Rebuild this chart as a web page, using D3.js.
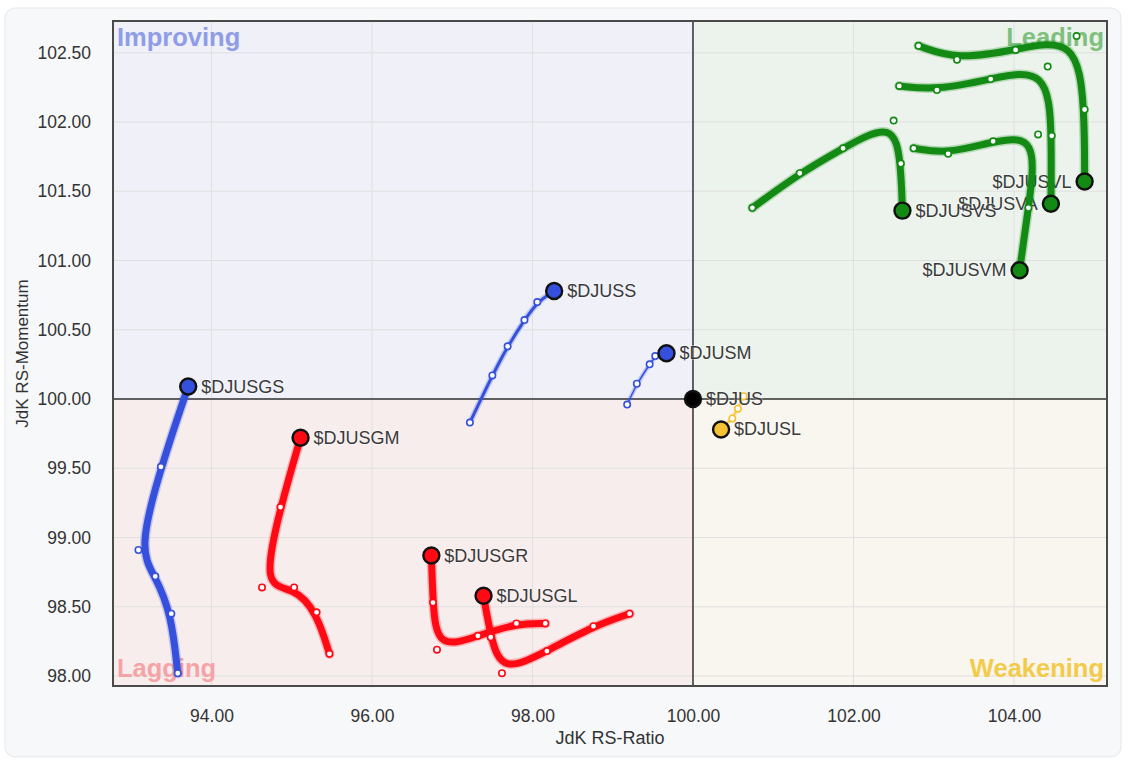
<!DOCTYPE html>
<html>
<head>
<meta charset="utf-8">
<script src="https://cdn.jsdelivr.net/npm/d3@7"></script>
<style>
  html, body { margin: 0; padding: 0; background: #ffffff; }
  svg { display: block; }
  text { font-family: "Liberation Sans", Arial, sans-serif; }
</style>
</head>
<body>
<svg id="chart" width="1130" height="764"></svg>
<script>
// ---- Data ----
const xTicks = [94, 96, 98, 100, 102, 104];
const yTicks = [98.0, 98.5, 99.0, 99.5, 100.0, 100.5, 101.0, 101.5, 102.0, 102.5];
const xDomain = [92.773, 105.159];
const yDomain = [97.928, 102.729];

const seriesNames = ["$DJUSGS", "$DJUSGM", "$DJUSGR", "$DJUSGL", "$DJUSS", "$DJUSM",
                     "$DJUSL", "$DJUSVL", "$DJUSVA", "$DJUSVS", "$DJUSVM", "$DJUS"];

// RS-Ratio (x) and RS-Momentum (y), tail -> head
const ratioGS = [93.58, 93.50, 93.30, 93.09, 93.37, 93.71];
const momGS   = [98.02, 98.45, 98.72, 98.91, 99.51, 100.09];
const ratioGM = [95.47, 95.31, 95.03, 94.63, 94.86, 95.11];
const momGM   = [98.16, 98.46, 98.64, 98.64, 99.22, 99.72];
const ratioGR = [98.16, 97.80, 97.32, 96.81, 96.76, 96.74];
const momGR   = [98.38, 98.38, 98.29, 98.19, 98.53, 98.87];
const ratioGL = [99.21, 98.76, 98.18, 97.62, 97.48, 97.39];
const momGL   = [98.45, 98.36, 98.18, 98.02, 98.28, 98.58];
const ratioS  = [97.22, 97.50, 97.69, 97.90, 98.06, 98.27];
const momS    = [99.83, 100.17, 100.38, 100.57, 100.70, 100.78];
const ratioM  = [99.18, 99.30, 99.46, 99.53, 99.67];
const momM    = [99.96, 100.11, 100.25, 100.31, 100.33];
const ratioL  = [100.63, 100.56, 100.49, 100.35];
const momL    = [100.02, 99.93, 99.86, 99.78];
const ratioVL = [102.81, 103.29, 104.02, 104.78, 104.88, 104.88];
const momVL   = [102.55, 102.45, 102.52, 102.62, 102.09, 101.57];
const ratioVA = [102.57, 103.04, 103.71, 104.42, 104.47, 104.46];
const momVA   = [102.26, 102.23, 102.31, 102.40, 101.90, 101.41];
const ratioVS = [100.74, 101.33, 101.87, 102.50, 102.59, 102.61];
const momVS   = [101.38, 101.63, 101.81, 102.01, 101.70, 101.36];
const ratioVM = [102.75, 103.18, 103.74, 104.30, 104.18, 104.07];
const momVM   = [101.81, 101.77, 101.86, 101.91, 101.38, 100.93];
const ratioUS = [100.00];
const momUS   = [100.00];

const quadrantNames = ["Improving", "Leading", "Lagging", "Weakening"];

// ---- Styles ----
const BLUE = "#3450dc", RED = "#ff0a14", GREEN = "#138a13", GOLD = "#f4c233", BLACK = "#000000";
const series = [
  {name: "$DJUSGS", xs: ratioGS, ys: momGS, color: BLUE,  w: 7,   label: "right"},
  {name: "$DJUSGM", xs: ratioGM, ys: momGM, color: RED,   w: 7,   label: "right"},
  {name: "$DJUSGR", xs: ratioGR, ys: momGR, color: RED,   w: 7,   label: "right"},
  {name: "$DJUSGL", xs: ratioGL, ys: momGL, color: RED,   w: 7,   label: "right"},
  {name: "$DJUSS",  xs: ratioS,  ys: momS,  color: BLUE,  w: 3,   label: "right"},
  {name: "$DJUSM",  xs: ratioM,  ys: momM,  color: BLUE,  w: 1.5, label: "right"},
  {name: "$DJUSL",  xs: ratioL,  ys: momL,  color: GOLD,  w: 1.5, label: "right"},
  {name: "$DJUSVL", xs: ratioVL, ys: momVL, color: GREEN, w: 7,   label: "left"},
  {name: "$DJUSVA", xs: ratioVA, ys: momVA, color: GREEN, w: 7,   label: "left"},
  {name: "$DJUSVS", xs: ratioVS, ys: momVS, color: GREEN, w: 7,   label: "right"},
  {name: "$DJUSVM", xs: ratioVM, ys: momVM, color: GREEN, w: 7,   label: "left"},
  {name: "$DJUS",   xs: ratioUS, ys: momUS, color: BLACK, w: 1.5, label: "right"}
];

const svg = d3.select("#chart");
const W = 1130, H = 764;
const m = {left: 113, top: 21, right: 23, bottom: 78};
const pw = W - m.left - m.right, ph = H - m.top - m.bottom;

// card
svg.append("rect").attr("x", 5).attr("y", 8).attr("width", 1116).attr("height", 749)
  .attr("rx", 10).attr("fill", "#f7f8fa").attr("stroke", "#e6e7ea").attr("stroke-width", 1);

const x = d3.scaleLinear().domain(xDomain).range([0, pw]);
const y = d3.scaleLinear().domain(yDomain).range([ph, 0]);

const g = svg.append("g").attr("transform", `translate(${m.left},${m.top})`);

// quadrants
const quads = [
  {x0: xDomain[0], x1: 100, y0: 100, y1: yDomain[1], fill: "#eff0f8"},
  {x0: 100, x1: xDomain[1], y0: 100, y1: yDomain[1], fill: "#ecf3ec"},
  {x0: xDomain[0], x1: 100, y0: yDomain[0], y1: 100, fill: "#f8eded"},
  {x0: 100, x1: xDomain[1], y0: yDomain[0], y1: 100, fill: "#f8f6ef"}
];
g.selectAll("rect.q").data(quads).join("rect")
  .attr("x", d => x(d.x0)).attr("y", d => y(d.y1))
  .attr("width", d => x(d.x1) - x(d.x0)).attr("height", d => y(d.y0) - y(d.y1))
  .attr("fill", d => d.fill);

// grid
g.append("g").selectAll("line").data(xTicks).join("line")
  .attr("x1", d => x(d)).attr("x2", d => x(d)).attr("y1", 0).attr("y2", ph)
  .attr("stroke", "#e0e0e0").attr("stroke-width", 1);
g.append("g").selectAll("line").data(yTicks).join("line")
  .attr("y1", d => y(d)).attr("y2", d => y(d)).attr("x1", 0).attr("x2", pw)
  .attr("stroke", "#e0e0e0").attr("stroke-width", 1);

// quadrant labels
const qlab = [
  {t: quadrantNames[0], x: 4, y: 25, anchor: "start", fill: "#8f9de8"},
  {t: quadrantNames[1], x: pw - 3, y: 25, anchor: "end", fill: "#7fc07f"},
  {t: quadrantNames[2], x: 4, y: ph - 9, anchor: "start", fill: "#f5a3a6"},
  {t: quadrantNames[3], x: pw - 3, y: ph - 9, anchor: "end", fill: "#f3cb4a"}
];
g.selectAll("text.ql").data(qlab).join("text")
  .attr("x", d => d.x).attr("y", d => d.y).attr("text-anchor", d => d.anchor)
  .attr("fill", d => d.fill).attr("font-size", 25.5).attr("font-weight", "bold")
  .text(d => d.t);

// center cross
g.append("line").attr("x1", x(100)).attr("x2", x(100)).attr("y1", 0).attr("y2", ph)
  .attr("stroke", "#333").attr("stroke-width", 1.5);
g.append("line").attr("y1", y(100)).attr("y2", y(100)).attr("x1", 0).attr("x2", pw)
  .attr("stroke", "#333").attr("stroke-width", 1.5);

// frame
g.append("rect").attr("x", 0).attr("y", 0).attr("width", pw).attr("height", ph)
  .attr("fill", "none").attr("stroke", "#4a4a4a").attr("stroke-width", 2);

// axes
const fmt = d3.format(".2f");
const xAxis = g.append("g").attr("transform", `translate(0,${ph})`)
  .call(d3.axisBottom(x).tickValues(xTicks).tickFormat(fmt).tickSize(0).tickPadding(24));
const yAxis = g.append("g")
  .call(d3.axisLeft(y).tickValues(yTicks).tickFormat(fmt).tickSize(0).tickPadding(22));
[xAxis, yAxis].forEach(a => {
  a.select(".domain").remove();
  a.selectAll("text").attr("font-size", 17.5).attr("fill", "#333")
    .attr("font-family", "Liberation Sans, Arial, sans-serif");
});

svg.append("text").attr("x", m.left + pw / 2).attr("y", 744).attr("text-anchor", "middle")
  .attr("font-size", 18).attr("fill", "#333").text("JdK RS-Ratio");
svg.append("text").attr("transform", `translate(28,${m.top + ph / 2}) rotate(-90)`)
  .attr("text-anchor", "middle").attr("font-size", 17).attr("fill", "#333").text("JdK RS-Momentum");

// series
const line = d3.line().x(d => x(d[0])).y(d => y(d[1])).curve(d3.curveBasis);

series.forEach(s => {
  const pts = s.xs.map((v, i) => [v, s.ys[i]]);
  const sg = g.append("g");
  if (pts.length > 1) {
    sg.append("path").attr("d", line(pts)).attr("fill", "none")
      .attr("stroke", s.color).attr("stroke-opacity", 0.25).attr("stroke-width", s.w + 3)
      .attr("stroke-linecap", "round").attr("stroke-linejoin", "round");
    sg.append("path").attr("d", line(pts)).attr("fill", "none")
      .attr("stroke", s.color).attr("stroke-width", s.w)
      .attr("stroke-linecap", "round").attr("stroke-linejoin", "round");
    sg.selectAll("circle.t").data(pts.slice(0, -1)).join("circle")
      .attr("cx", d => x(d[0])).attr("cy", d => y(d[1])).attr("r", 3.2)
      .attr("fill", "#fff").attr("stroke", s.color).attr("stroke-width", 1.6);
  }
  const h = pts[pts.length - 1];
  sg.append("circle").attr("cx", x(h[0])).attr("cy", y(h[1])).attr("r", 8)
    .attr("fill", s.color).attr("stroke", "#111").attr("stroke-width", 2.4);
  sg.append("text")
    .attr("x", x(h[0]) + (s.label === "right" ? 13 : -13))
    .attr("y", y(h[1]) + 6)
    .attr("text-anchor", s.label === "right" ? "start" : "end")
    .attr("font-size", 18).attr("fill", "#3a3a3a")
    .attr("stroke", "#ffffff").attr("stroke-opacity", 0.35).attr("stroke-width", 2)
    .attr("paint-order", "stroke")
    .text(s.name);
});
</script>
</body>
</html>
